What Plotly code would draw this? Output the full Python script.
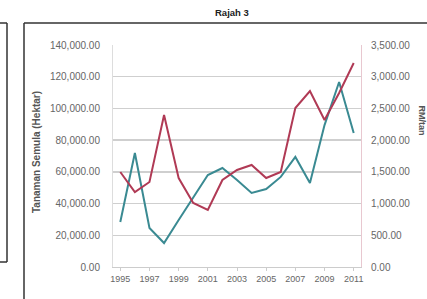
import plotly.graph_objects as go

years = [str(y) for y in range(1995, 2012)]
tanaman_hektar = [28400, 71900, 24600, 15100, 29600, 44100, 58000, 62400, 54900,
                  46700, 49200, 56800, 69400, 53000, 89500, 116700, 84500]
harga_rm_tan = [1498, 1182, 1340, 2396, 1403, 1009, 899, 1372, 1529,
                1608, 1403, 1498, 2507, 2775, 2318, 2743, 3216]

left_ticks = [0, 20000, 40000, 60000, 80000, 100000, 120000, 140000]
right_ticks = [0, 500, 1000, 1500, 2000, 2500, 3000, 3500]
x_ticks = [str(y) for y in range(1995, 2012, 2)]

W, H = 427, 299
L, R, T, B = 113, 361, 45, 267


def px(x):
    return (x - L) / (R - L)


def py(y):
    return (B - y) / (B - T)


fig = go.Figure()
fig.add_trace(go.Scatter(x=years, y=tanaman_hektar, mode="lines",
                         line=dict(color="#3a8a92", width=2), yaxis="y",
                         name="Tanaman Semula"))
fig.add_trace(go.Scatter(x=years, y=harga_rm_tan, mode="lines",
                         line=dict(color="#b03a55", width=2), yaxis="y2",
                         name="RM/tan"))

FONT = "Liberation Sans, Arial"
tickfont = dict(family=FONT, size=10, color="#666666")

fig.update_layout(
    width=W, height=H,
    margin=dict(l=L, r=W - R, t=T, b=H - B, pad=0, autoexpand=False),
    paper_bgcolor="white", plot_bgcolor="white",
    showlegend=False,
    xaxis=dict(type="category", range=[-0.5, 16.5], tickvals=x_ticks,
               ticktext=x_ticks, tickfont=dict(family=FONT, size=9, color="#666666"),
               showgrid=False,
               showline=True, linecolor="#cccccc", linewidth=1,
               ticks="outside", ticklen=3, tickcolor="#cccccc"),
    yaxis=dict(range=[0, 140000], tickvals=left_ticks,
               ticktext=[f"{v:,.2f}" for v in left_ticks],
               tickfont=tickfont, showgrid=True, gridcolor="#cfcfcf",
               gridwidth=1.5, showline=True, linecolor="#dddddd",
               zeroline=False, ticks="", ticklabelstandoff=10),
    yaxis2=dict(range=[0, 3500], tickvals=right_ticks,
                ticktext=[f"{v:,.2f}" for v in right_ticks],
                tickfont=tickfont, overlaying="y", side="right",
                showgrid=False, showline=True, linecolor="#e8c8d0",
                zeroline=False, ticks="", ticklabelstandoff=7),
)

fig.add_annotation(x=px(232), y=py(13), xref="paper", yref="paper",
                   xanchor="center", yanchor="middle",
                   text="<b>Rajah 3</b>", showarrow=False,
                   font=dict(family=FONT, size=9.5, color="#222222"))
fig.add_annotation(x=px(36), y=py(152), xref="paper", yref="paper",
                   xanchor="center", yanchor="middle",
                   text="<b>Tanaman Semula (Hektar)</b>", textangle=-90,
                   showarrow=False,
                   font=dict(family=FONT, size=10, color="#555555"))
fig.add_annotation(x=px(421.5), y=py(120), xref="paper", yref="paper",
                   xanchor="center", yanchor="middle",
                   text="<b>RM/tan</b>", textangle=90, showarrow=False,
                   font=dict(family=FONT, size=9, color="#555555"))

line = dict(color="#333333", width=1.5)
# main frame
fig.add_shape(type="line", xref="paper", yref="paper",
              x0=px(24), x1=px(427), y0=py(23), y1=py(23), line=line)
fig.add_shape(type="line", xref="paper", yref="paper",
              x0=px(24), x1=px(24), y0=py(23), y1=py(299), line=line)
# left panel box edge
fig.add_shape(type="line", xref="paper", yref="paper",
              x0=px(7), x1=px(7), y0=py(23), y1=py(262), line=line)
fig.add_shape(type="line", xref="paper", yref="paper",
              x0=px(0), x1=px(7), y0=py(262), y1=py(262), line=line)
fig.add_shape(type="line", xref="paper", yref="paper",
              x0=px(0), x1=px(7), y0=py(23), y1=py(23), line=line)

fig.write_html("out.html",
               config={"displayModeBar": False, "staticPlot": True},
               post_script="document.body.style.margin='0px';"
                           "document.body.style.overflow='hidden';")
